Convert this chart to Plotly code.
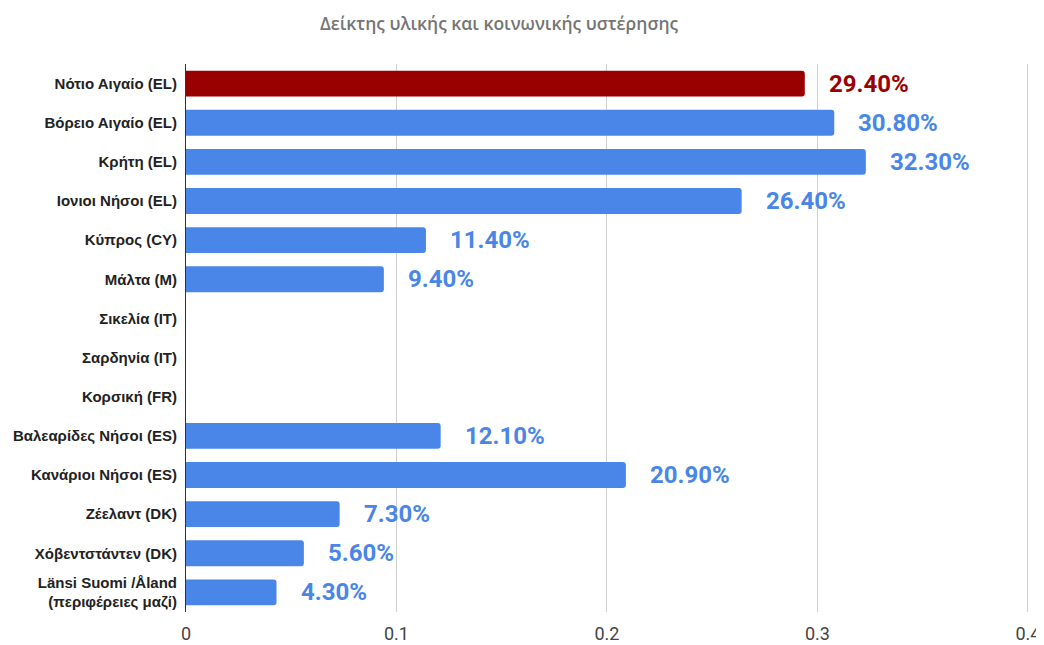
import plotly.graph_objects as go

categories = [
    "Νότιο Αιγαίο (EL)",
    "Βόρειο Αιγαίο (EL)",
    "Κρήτη (EL)",
    "Ιονιοι Νήσοι (EL)",
    "Κύπρος (CY)",
    "Μάλτα (M)",
    "Σικελία (IT)",
    "Σαρδηνία (IT)",
    "Κορσική (FR)",
    "Βαλεαρίδες Νήσοι (ES)",
    "Κανάριοι Νήσοι (ES)",
    "Ζέελαντ (DK)",
    "Χόβεντστάντεν (DK)",
    "Länsi Suomi /Åland<br>(περιφέρειες μαζί)",
]
values = [0.294, 0.308, 0.323, 0.264, 0.114, 0.094, None, None, None, 0.121, 0.209, 0.073, 0.056, 0.043]
labels = ["29.40%", "30.80%", "32.30%", "26.40%", "11.40%", "9.40%", "", "", "", "12.10%", "20.90%", "7.30%", "5.60%", "4.30%"]
x_ticks = [0, 0.1, 0.2, 0.3, 0.4]
x_tick_labels = ["0", "0.1", "0.2", "0.3", "0.4"]

BLUE = "#4a86e8"
RED = "#990000"
colors = [RED] + [BLUE] * (len(categories) - 1)

fig = go.Figure(
    go.Bar(
        x=values,
        y=categories,
        orientation="h",
        marker=dict(color=colors, cornerradius=3, line=dict(width=0)),
        width=0.66,
        hoverinfo="skip",
    )
)

for cat, v, lab, c in zip(categories, values, labels, colors):
    if v is None:
        continue
    fig.add_annotation(
        x=v, y=cat, text=lab, showarrow=False, xanchor="left", xshift=22,
        font=dict(family="Roboto, Arial, sans-serif", size=24, color=c, weight="bold"),
    )

fig.update_layout(
    width=1036, height=637,
    margin=dict(l=178, r=14, t=56, b=33, autoexpand=False),
    paper_bgcolor="white", plot_bgcolor="white",
    title=dict(
        text="Δείκτης υλικής και κοινωνικής υστέρησης",
        x=0.474, xanchor="center", y=0.975, yanchor="middle",
        font=dict(family="Open Sans, Arial, sans-serif", size=17.5, color="#757575", weight=600),
    ),
    showlegend=False,
)
fig.update_xaxes(
    range=[0, 0.401], tickvals=x_ticks, ticktext=x_tick_labels,
    showgrid=True, gridcolor="#d0d0d0", gridwidth=1, zeroline=False,
    tickfont=dict(family="Roboto, Arial, sans-serif", size=18, color="#444444"),
    ticks="", showline=False, automargin=False, ticklabelstandoff=9,
)
fig.update_yaxes(
    autorange="reversed", showgrid=False, showline=True, linecolor="#333333", linewidth=1,
    tickfont=dict(family="Liberation Sans, Arial, sans-serif", size=15, color="#222222", weight="bold"),
    ticks="", ticklabelstandoff=5, automargin=False,
)

fig.write_html("out.html")
